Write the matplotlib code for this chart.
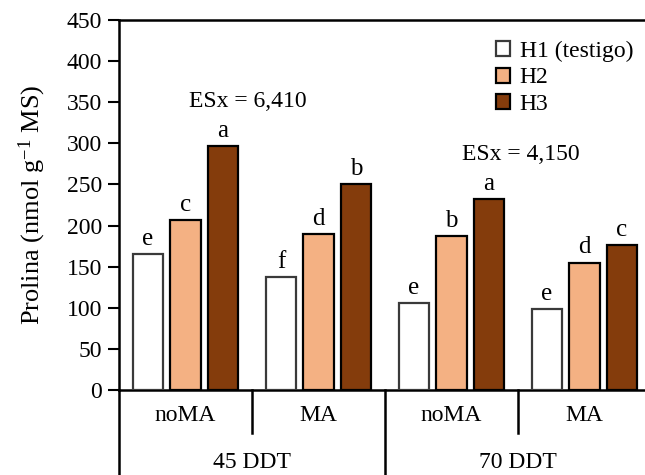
import numpy as np
import matplotlib.pyplot as plt

plt.rcParams['font.family'] = 'Liberation Serif'
plt.rcParams['mathtext.fontset'] = 'custom'
plt.rcParams['mathtext.rm'] = 'Liberation Serif'
plt.rcParams['mathtext.default'] = 'regular'

grupos = ['noMA', 'MA', 'noMA', 'MA']
fechas = ['45 DDT', '70 DDT']
series = ['H1 (testigo)', 'H2', 'H3']
h1 = [165, 137, 106, 98]
h2 = [207, 190, 187, 155]
h3 = [297, 251, 232, 176]
letras_h1 = ['e', 'f', 'e', 'e']
letras_h2 = ['c', 'd', 'b', 'd']
letras_h3 = ['a', 'b', 'a', 'c']
esx = ['ESx = 6,410', 'ESx = 4,150']

colores = ['white', '#F4B183', '#843C0C']
bordes = ['#3a3a3a', 'black', 'black']

fig = plt.figure(figsize=(6.45, 4.75), dpi=100)
ax = fig.add_axes([119/645, 85/475, 526/645, 370/475])

x = np.arange(len(grupos))
w = 0.226
d = 0.282
valores = [h1, h2, h3]
letras = [letras_h1, letras_h2, letras_h3]
for i in range(3):
    xs = x + (i - 1)*d
    ax.bar(xs, valores[i], width=w, color=colores[i], edgecolor=bordes[i],
           linewidth=1.6, label=series[i], zorder=3)
    for xi, v, l in zip(xs, valores[i], letras[i]):
        ax.text(xi, v + 5, l, ha='center', va='bottom', fontsize=18)

ax.text(0.47, 351, esx[0], ha='center', va='center', fontsize=17)
ax.text(2.52, 287, esx[1], ha='center', va='center', fontsize=17)

ax.set_xlim(-0.5, 3.455)
ax.set_ylim(0, 450)
ax.set_yticks(np.arange(0, 451, 50))
ax.tick_params(axis='y', labelsize=17, direction='out', length=8, width=1.5, pad=4)
ax.set_xticks([])
ax.set_ylabel('Prolina (nmol g$^{-1}$ MS)', fontsize=19, labelpad=14)
for s in ['left', 'bottom', 'top']:
    ax.spines[s].set_linewidth(1.8)
ax.spines['right'].set_visible(False)

# tabla de categorias bajo el eje
tr = ax.get_xaxis_transform()
ax.plot([-0.5, -0.5], [0, -0.23], color='black', lw=1.8, transform=tr, clip_on=False)
ax.plot([1.5, 1.5], [0, -0.23], color='black', lw=1.8, transform=tr, clip_on=False)
for xd in [0.5, 2.5]:
    ax.plot([xd, xd], [0, -0.116], color='black', lw=1.8, transform=tr, clip_on=False)
for xi, g in zip(x, grupos):
    ax.text(xi, -0.07, g, ha='center', va='center', fontsize=17, transform=tr)
for xi, f in zip([0.5, 2.5], fechas):
    ax.text(xi, -0.195, f, ha='center', va='center', fontsize=17, transform=tr)

ax.legend(loc='upper right', bbox_to_anchor=(1.0, 0.975), frameon=False, fontsize=17,
          handlelength=0.6, handleheight=0.6, handletextpad=0.4, labelspacing=0.22,
          borderaxespad=0.1)

fig.savefig('out.png', dpi=100)
